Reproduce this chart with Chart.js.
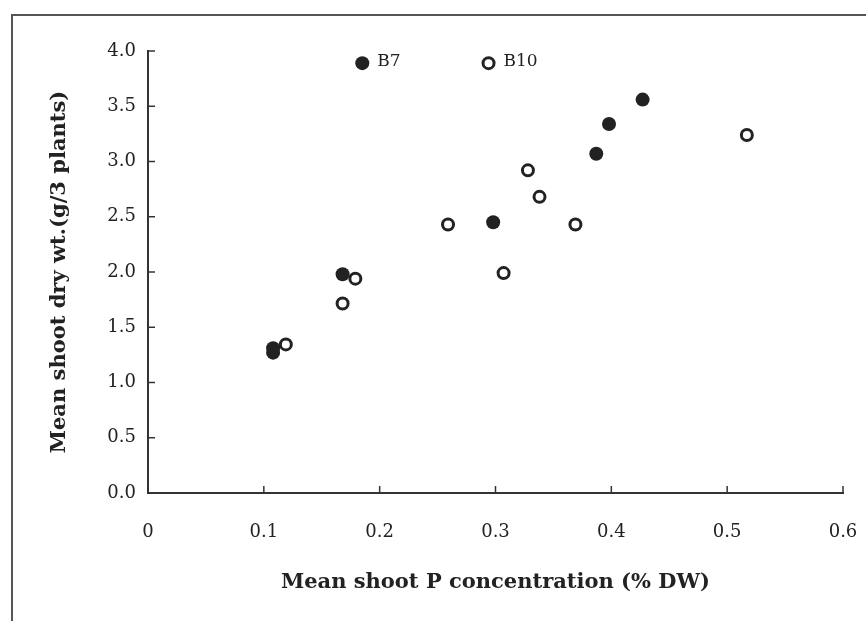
<!DOCTYPE html>
<html lang="en">
<head>
    <meta charset="UTF-8">
    <title>Shoot dry weight vs shoot P</title>
    <script src="https://cdn.jsdelivr.net/npm/chart.js"></script>
    <style>
        body { margin: 0; background: #fff; }
        .wrap { position: relative; width: 866px; height: 621px; }
        .frame { position: absolute; left: 11px; top: 14px; right: 0; bottom: 0;
                 border-top: 2px solid #555; border-left: 2px solid #555; pointer-events: none; }
    </style>
</head>
<body>
    <div class="wrap">
        <canvas id="scatter" width="866" height="621"></canvas>
        <div class="frame"></div>
    </div>
    <script>
        // filled symbols
        const filledX = [0.185, 0.108, 0.108, 0.168, 0.298, 0.387, 0.398, 0.427];
        const filledY = [3.89, 1.31, 1.27, 1.98, 2.45, 3.07, 3.34, 3.56];
        // open symbols
        const openX = [0.294, 0.119, 0.168, 0.179, 0.259, 0.328, 0.338, 0.369, 0.307, 0.517];
        const openY = [3.89, 1.345, 1.715, 1.94, 2.43, 2.92, 2.68, 2.43, 1.99, 3.24];
        // labelled points: [dataset, index, text]
        const pointLabels = [[0, 0, 'B7'], [1, 0, 'B10']];

        const xTitle = 'Mean shoot P concentration (% DW)';
        const yTitle = 'Mean shoot dry wt.(g/3 plants)';

        const ink = '#222';
        const serif = "'DejaVu Serif', serif";

        function toPoints(xs, ys) {
            return xs.map((x, i) => ({ x: x, y: ys[i] }));
        }

        // short tick marks pointing into the plot, plus the point labels
        const extras = {
            id: 'extras',
            afterDraw(chart) {
                const ctx = chart.ctx;
                const xs = chart.scales.x, ys = chart.scales.y;
                ctx.save();
                ctx.strokeStyle = '#333';
                ctx.lineWidth = 1.5;
                xs.ticks.forEach(t => {
                    if (t.value === 0) return;
                    const px = xs.getPixelForValue(t.value);
                    ctx.beginPath();
                    ctx.moveTo(px, ys.bottom);
                    ctx.lineTo(px, ys.bottom - 7);
                    ctx.stroke();
                });
                ys.ticks.forEach(t => {
                    if (t.value === 0) return;
                    const py = ys.getPixelForValue(t.value);
                    ctx.beginPath();
                    ctx.moveTo(xs.left, py);
                    ctx.lineTo(xs.left + 7, py);
                    ctx.stroke();
                });
                ctx.fillStyle = ink;
                ctx.font = '17px ' + serif;
                ctx.textBaseline = 'middle';
                pointLabels.forEach(([d, i, text]) => {
                    const el = chart.getDatasetMeta(d).data[i];
                    ctx.fillText(text, el.x + 15, el.y - 2);
                });
                ctx.restore();
            }
        };

        new Chart(document.getElementById('scatter'), {
            type: 'scatter',
            data: {
                datasets: [
                    {
                        data: toPoints(filledX, filledY),
                        pointRadius: 7,
                        pointBackgroundColor: ink,
                        pointBorderColor: ink,
                        pointBorderWidth: 0
                    },
                    {
                        data: toPoints(openX, openY),
                        pointRadius: 5.5,
                        pointBackgroundColor: '#fff',
                        pointBorderColor: ink,
                        pointBorderWidth: 3
                    }
                ]
            },
            options: {
                responsive: false,
                animation: false,
                layout: { padding: { top: 51, right: 23, left: 0, bottom: 0 } },
                plugins: { legend: { display: false }, tooltip: { enabled: false } },
                scales: {
                    x: {
                        type: 'linear',
                        min: 0, max: 0.6,
                        afterFit(scale) {
                            scale.height = 128;
                            scale.paddingLeft = 0;
                            scale.paddingRight = 0;
                        },
                        grid: { display: false, drawTicks: false },
                        border: { display: true, color: '#333', width: 2 },
                        ticks: {
                            stepSize: 0.1,
                            padding: 29,
                            color: ink,
                            font: { family: serif, size: 18 },
                            callback: v => v === 0 ? '0' : v.toFixed(1)
                        },
                        title: {
                            display: true,
                            text: xTitle,
                            color: ink,
                            font: { family: serif, size: 21, weight: 'bold' },
                            padding: { top: 0, bottom: 26 }
                        }
                    },
                    y: {
                        type: 'linear',
                        min: 0, max: 4,
                        afterFit(scale) { scale.width = 148; },
                        grid: { display: false, drawTicks: false },
                        border: { display: true, color: '#333', width: 2 },
                        ticks: {
                            stepSize: 0.5,
                            padding: 12,
                            color: ink,
                            font: { family: serif, size: 18 },
                            callback: v => v.toFixed(1)
                        },
                        title: {
                            display: true,
                            text: yTitle,
                            color: ink,
                            font: { family: serif, size: 21, weight: 'bold' },
                            padding: { top: 47, bottom: 0 }
                        }
                    }
                }
            },
            plugins: [extras]
        });
    </script>
</body>
</html>
